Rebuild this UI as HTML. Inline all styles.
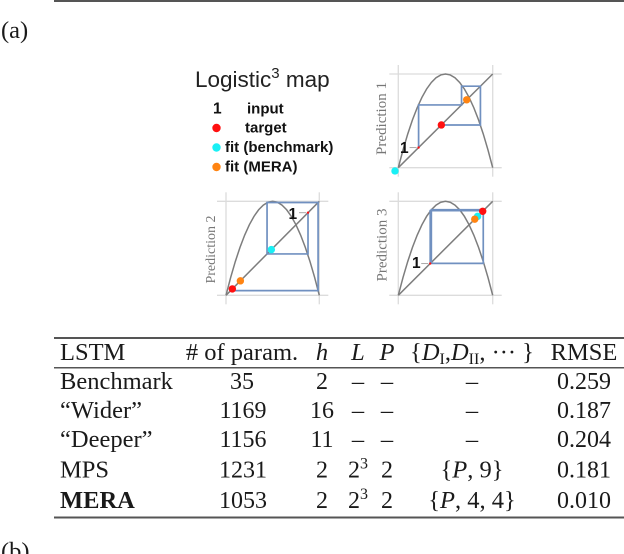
<!DOCTYPE html>
<html>
<head>
<meta charset="utf-8">
<style>
html,body{margin:0;padding:0;background:#fff;width:624px;height:554px;overflow:hidden}
svg{display:block}
.s{font-family:"Liberation Serif",serif;font-size:24.5px;fill:#1a1a1a}
.n{font-size:24px}
.i{font-style:italic}
.m{text-anchor:middle}
.lg{font-family:"Liberation Sans",sans-serif;font-weight:bold;font-size:15px;fill:#111}
</style>
</head>
<body>
<svg id="fig" width="624" height="554" viewBox="0 0 624 554" xmlns="http://www.w3.org/2000/svg">
<rect x="54" y="0" width="570" height="2" fill="#555"/>
<text x="1" y="38" class="s">(a)</text>
<text x="1" y="559" class="s">(b)</text>

<g>
<text x="195" y="87" font-family="'Liberation Sans',sans-serif" font-size="22.5" fill="#222">Logistic<tspan font-size="15" dy="-9">3</tspan><tspan dy="9"> map</tspan></text>
<text x="213" y="113.500" font-family="'Liberation Sans',sans-serif" font-weight="bold" font-size="15.500" fill="#111">1</text>
<text x="247" y="113.500" class="lg">input</text>
<circle cx="216.500" cy="128" r="4.200" fill="#ff1010"/>
<text x="245" y="132.500" class="lg">target</text>
<circle cx="216.500" cy="147.500" r="4.200" fill="#19f0f5"/>
<text x="225" y="152" class="lg">fit (benchmark)</text>
<circle cx="216.500" cy="167" r="4.200" fill="#ff8412"/>
<text x="225" y="171.500" class="lg">fit (MERA)</text>
</g>

<g id="plots"></g>

<g>
<rect x="54" y="337" width="570" height="2" fill="#555"/>
<rect x="54" y="367" width="570" height="1.500" fill="#555"/>
<rect x="54" y="516.500" width="570" height="2" fill="#555"/>

<g>
<text x="60" y="360" class="s">LSTM</text>
<text x="242" y="360" class="s m"># of param.</text>
<text x="322" y="360" class="s m i">h</text>
<text x="358" y="360" class="s m i">L</text>
<text x="387" y="360" class="s m i">P</text>
<text x="472" y="360" class="s m">{<tspan class="i">D</tspan><tspan font-size="16" dy="4">I</tspan><tspan dy="-4">,</tspan><tspan class="i">D</tspan><tspan font-size="16" dy="4">II</tspan><tspan dy="-4">, ··· }</tspan></text>
<text x="584" y="360" class="s m">RMSE</text>
</g>

<g>
<text x="60" y="389" class="s">Benchmark</text>
<text x="242" y="389" class="s n m">35</text>
<text x="322" y="389" class="s n m">2</text>
<text x="358" y="389" class="s m">–</text>
<text x="387" y="389" class="s m">–</text>
<text x="472" y="389" class="s m">–</text>
<text x="584" y="389" class="s n m">0.259</text>
</g>
<g>
<text x="60" y="418" class="s">“Wider”</text>
<text x="243" y="418" class="s n m">1169</text>
<text x="322" y="418" class="s n m">16</text>
<text x="358" y="418" class="s m">–</text>
<text x="387" y="418" class="s m">–</text>
<text x="472" y="418" class="s m">–</text>
<text x="584" y="418" class="s n m">0.187</text>
</g>
<g>
<text x="60" y="447" class="s">“Deeper”</text>
<text x="243" y="447" class="s n m">1156</text>
<text x="322" y="447" class="s n m">11</text>
<text x="358" y="447" class="s m">–</text>
<text x="387" y="447" class="s m">–</text>
<text x="472" y="447" class="s m">–</text>
<text x="584" y="447" class="s n m">0.204</text>
</g>
<g>
<text x="60" y="477.500" class="s">MPS</text>
<text x="243" y="477.500" class="s n m">1231</text>
<text x="322" y="477.500" class="s n m">2</text>
<text x="358" y="477.500" class="s n m">2<tspan font-size="16" dy="-9">3</tspan></text>
<text x="387" y="477.500" class="s n m">2</text>
<text x="472" y="477.500" class="s m">{<tspan class="i">P</tspan>, 9}</text>
<text x="584" y="477.500" class="s n m">0.181</text>
</g>
<g>
<text x="60" y="508" class="s" font-weight="bold">MERA</text>
<text x="243" y="508" class="s n m">1053</text>
<text x="322" y="508" class="s n m">2</text>
<text x="358" y="508" class="s n m">2<tspan font-size="16" dy="-9">3</tspan></text>
<text x="387" y="508" class="s n m">2</text>
<text x="472" y="508" class="s m">{<tspan class="i">P</tspan>, 4, 4}</text>
<text x="584" y="508" class="s n m">0.010</text>
</g>
</g>
</svg>
<script>
// Data (unit-square coordinates)
const curveX = [0,0.05,0.1,0.15,0.2,0.25,0.3,0.35,0.4,0.45,0.5,0.55,0.6,0.65,0.7,0.75,0.8,0.85,0.9,0.95,1];
const curveY = [0,0.19,0.36,0.51,0.64,0.75,0.84,0.91,0.96,0.99,1,0.99,0.96,0.91,0.84,0.75,0.64,0.51,0.36,0.19,0];
const panelNames = ['Prediction 1','Prediction 2','Prediction 3'];
const cobweb1 = [0.215,0.67,0.87,0.456];
const cobweb2 = [0.879,0.44,0.987,0.05,0.068];
const cobweb3 = [0.338,0.9,0.34,0.35,0.91,0.894];
const target = [0.456,0.068,0.894];
const fitBenchmark = [-0.035,0.486,0.84];
const fitMera = [0.725,0.154,0.81];

const boxes = [
  {l:398.3,r:492.7,t:74,b:167.7,label:[400,153],pl:386,pc:118.5,ps:15},
  {l:226,r:319.3,t:201.3,b:295.3,label:[288.5,219],pl:215,pc:249.5,ps:14},
  {l:398.3,r:492.7,t:201.3,b:295.3,label:[412,268],pl:386.5,pc:245,ps:15}
];
const cobwebs = [cobweb1,cobweb2,cobweb3];
const NS = 'http://www.w3.org/2000/svg';
const root = document.getElementById('plots');

function mk(tag, parent, attrs){
  const el = document.createElementNS(NS, tag);
  for (const k in attrs) el.setAttribute(k, attrs[k]);
  parent.appendChild(el);
  return el;
}

panelNames.forEach(function(name, i){
  const box = boxes[i];
  const sx = function(v){ return box.l + v*(box.r-box.l); };
  const sy = function(v){ return box.b - v*(box.b-box.t); };
  const g = mk('g', root, {});
  
  

  [[box.l-9,sy(0),box.r+9,sy(0)],[box.l-9,sy(1),box.r+9,sy(1)],[sx(0),box.t-9,sx(0),box.b+9],[sx(1),box.t-9,sx(1),box.b+9]].forEach(function(c){
    const gl = mk('line', g, {x1:c[0],y1:c[1],x2:c[2],y2:c[3],stroke:'#dcdcdc','stroke-width':1.3});
    
    
  });

  const web = cobwebs[i];
  const curvePts = curveX.map(function(x,j){ return sx(x)+','+sy(curveY[j]); }).join(' ');
  const curve = mk('polyline', g, {points:curvePts,fill:'none',stroke:'#7d7d7d','stroke-width':1.5});
  
  

  const diag = mk('line', g, {x1:sx(0),y1:sy(0),x2:sx(1),y2:sy(1),stroke:'#7d7d7d','stroke-width':1.5});
  
  

  let pts = [[web[0],web[0]]];
  for (let j=1;j<web.length;j++){
    pts.push([web[j-1],web[j]]);
    pts.push([web[j],web[j]]);
  }
  const webLine = mk('polyline', g, {points:pts.map(function(p){return sx(p[0])+','+sy(p[1]);}).join(' '),fill:'none',stroke:'#7090c0','stroke-width':1.7});
  
  

  const startDot = mk('circle', g, {cx:sx(web[0]),cy:sy(web[0]),r:1.2,fill:'#ff1010'});
  
  

  const tick = mk('line', g, {x1:sx(web[0])-9,y1:sy(web[0]),x2:sx(web[0])-2,y2:sy(web[0]),stroke:'#aaa','stroke-width':1});
  
  

  const one = mk('text', g, {x:box.label[0],y:box.label[1],'font-family':"'Liberation Sans',sans-serif",'font-weight':'bold','font-size':15.5,fill:'#111'});
  one.textContent = '1';
  
  

  const title = mk('text', g, {x:box.pl,y:box.pc,'font-family':"'Liberation Serif',serif",'font-size':box.ps,fill:'#777','text-anchor':'middle',transform:'rotate(-90 '+box.pl+' '+box.pc+')'});
  title.textContent = name;
  
  

  const tgt = mk('circle', g, {cx:sx(target[i]),cy:sy(target[i]),r:3.7,fill:'#ff1010'});
  
  

  const bm = mk('circle', g, {cx:sx(fitBenchmark[i]),cy:sy(fitBenchmark[i]),r:3.7,fill:'#19f0f5'});
  
  

  const mr = mk('circle', g, {cx:sx(fitMera[i]),cy:sy(fitMera[i]),r:3.7,fill:'#ff8412'});
  
  
});
</script>
</body>
</html>
